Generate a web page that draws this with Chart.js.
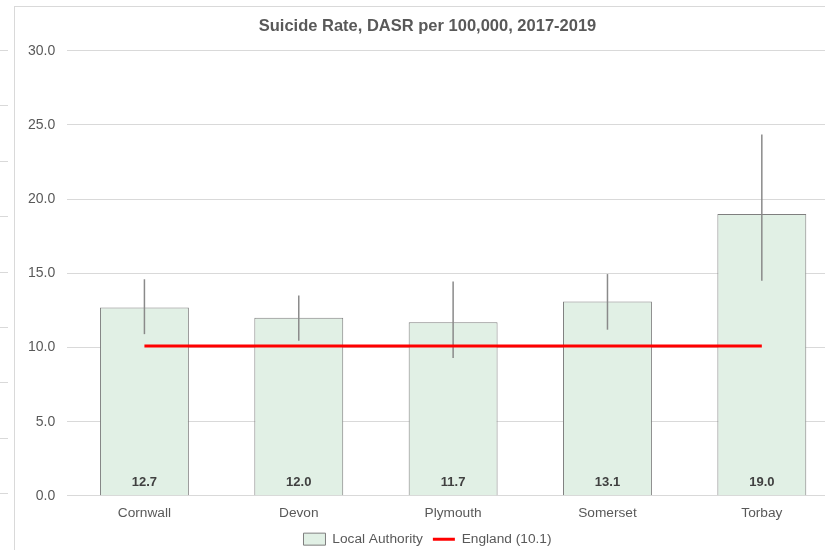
<!DOCTYPE html>
<html>
<head>
<meta charset="utf-8">
<script src="https://cdn.jsdelivr.net/npm/chart.js@4.4.0/dist/chart.umd.min.js"></script>
<style>
body { margin:0; width:825px; height:550px; overflow:hidden; background:#fff; position:relative; }
#frame { position:absolute; left:14px; top:6px; width:900px; height:600px; border-top:1px solid #d9d9d9; border-left:1px solid #d9d9d9; }
#wrap { position:absolute; left:15px; top:7px; width:838px; height:549px; }
.tick { position:absolute; left:0; width:8px; height:1px; background:#d9d9d9; }
</style>
</head>
<body>
<div id="frame"></div>
<div id="ticks"></div>
<div id="wrap"><canvas id="chartSuicide"></canvas></div>
<script>
var areas = ['Cornwall', 'Devon', 'Plymouth', 'Somerset', 'Torbay'];
var rates = [12.7, 12.0, 11.7, 13.1, 19.0];
var lowerCI = [10.9, 10.45, 9.3, 11.2, 14.5];
var upperCI = [14.6, 13.5, 14.45, 14.95, 24.35];
var england = [10.1, 10.1, 10.1, 10.1, 10.1];

// bits of the neighbouring chart left in the screenshot
var tickBox = document.getElementById('ticks');
for (var i = 0; i < 9; i++) {
     var t = document.createElement('div');
     t.className = 'tick';
     t.style.top = (50 + i * 55.4) + 'px';
     tickBox.appendChild(t);
}

var errorBars = {
     id: 'errorBars',
     afterDatasetDraw: function(chart, args) {
          if (args.index !== 0) return;
          var ctx = chart.ctx, y = chart.scales.y;
          ctx.save();
          ctx.strokeStyle = '#8a8a8a';
          ctx.lineWidth = 1.5;
          args.meta.data.forEach(function(bar, i) {
               ctx.beginPath();
               ctx.moveTo(bar.x, y.getPixelForValue(upperCI[i]));
               ctx.lineTo(bar.x, y.getPixelForValue(lowerCI[i]));
               ctx.stroke();
          });
          ctx.restore();
     },
     afterDatasetsDraw: function(chart) {
          var ctx = chart.ctx, y = chart.scales.y;
          var meta = chart.getDatasetMeta(0);
          ctx.save();
          ctx.fillStyle = '#404040';
          ctx.font = 'bold 13px "Liberation Sans", Arial, sans-serif';
          ctx.textAlign = 'center';
          ctx.textBaseline = 'middle';
          meta.data.forEach(function(bar, i) {
               ctx.fillText(rates[i].toFixed(1), bar.x, y.getPixelForValue(0) - 13);
          });
          ctx.restore();
     }
};

var config = {
     type: 'bar',
     data: {
          labels: areas,
          datasets: [{
               label: 'Local Authority',
               data: rates,
               backgroundColor: '#e1f0e5',
               borderColor: '#7f7f7f',
               borderWidth: 1,
               pointStyle: 'rect',
               categoryPercentage: 1,
               barPercentage: 0.576,
               order: 2
          }, {
               type: 'line',
               label: 'England (10.1)',
               data: england,
               borderColor: '#ff0000',
               backgroundColor: '#ff0000',
               borderWidth: 3,
               pointRadius: 0,
               pointStyle: 'line',
               order: 1
          }]
     },
     options: {
          responsive: true,
          maintainAspectRatio: false,
          animation: false,
          layout: { padding: { left: 1, right: 14, top: 0, bottom: 0 } },
          plugins: {
               title: {
                    display: true,
                    text: 'Suicide Rate, DASR per 100,000, 2017-2019',
                    color: '#595959',
                    font: { family: '"Liberation Sans", Arial, sans-serif', size: 16.5, weight: 'bold' },
                    padding: { top: 9.5, bottom: 14.5 }
               },
               legend: {
                    position: 'bottom',
                    labels: {
                         usePointStyle: true,
                         pointStyleWidth: 22,
                         boxHeight: 12,
                         color: '#595959',
                         font: { family: '"Liberation Sans", Arial, sans-serif', size: 13.7 },
                         padding: 10,
                         sort: function(a, b) { return a.datasetIndex - b.datasetIndex; }
                    }
               },
               tooltip: { enabled: false }
          },
          scales: {
               x: {
                    grid: { display: false },
                    border: { display: false },
                    ticks: {
                         color: '#595959',
                         padding: 1,
                         font: { family: '"Liberation Sans", Arial, sans-serif', size: 13.7 }
                    }
               },
               y: {
                    min: 0,
                    max: 30,
                    grid: { color: '#d9d9d9', drawTicks: false },
                    border: { display: false },
                    ticks: {
                         stepSize: 5,
                         padding: 12,
                         color: '#595959',
                         font: { family: '"Liberation Sans", Arial, sans-serif', size: 14 },
                         callback: function(v) { return v.toFixed(1); }
                    }
               }
          }
     },
     plugins: [errorBars]
};

window.onload = function() {
     var ctx = document.getElementById('chartSuicide').getContext('2d');
     window.suicideChart = new Chart(ctx, config);
};
</script>
</body>
</html>
